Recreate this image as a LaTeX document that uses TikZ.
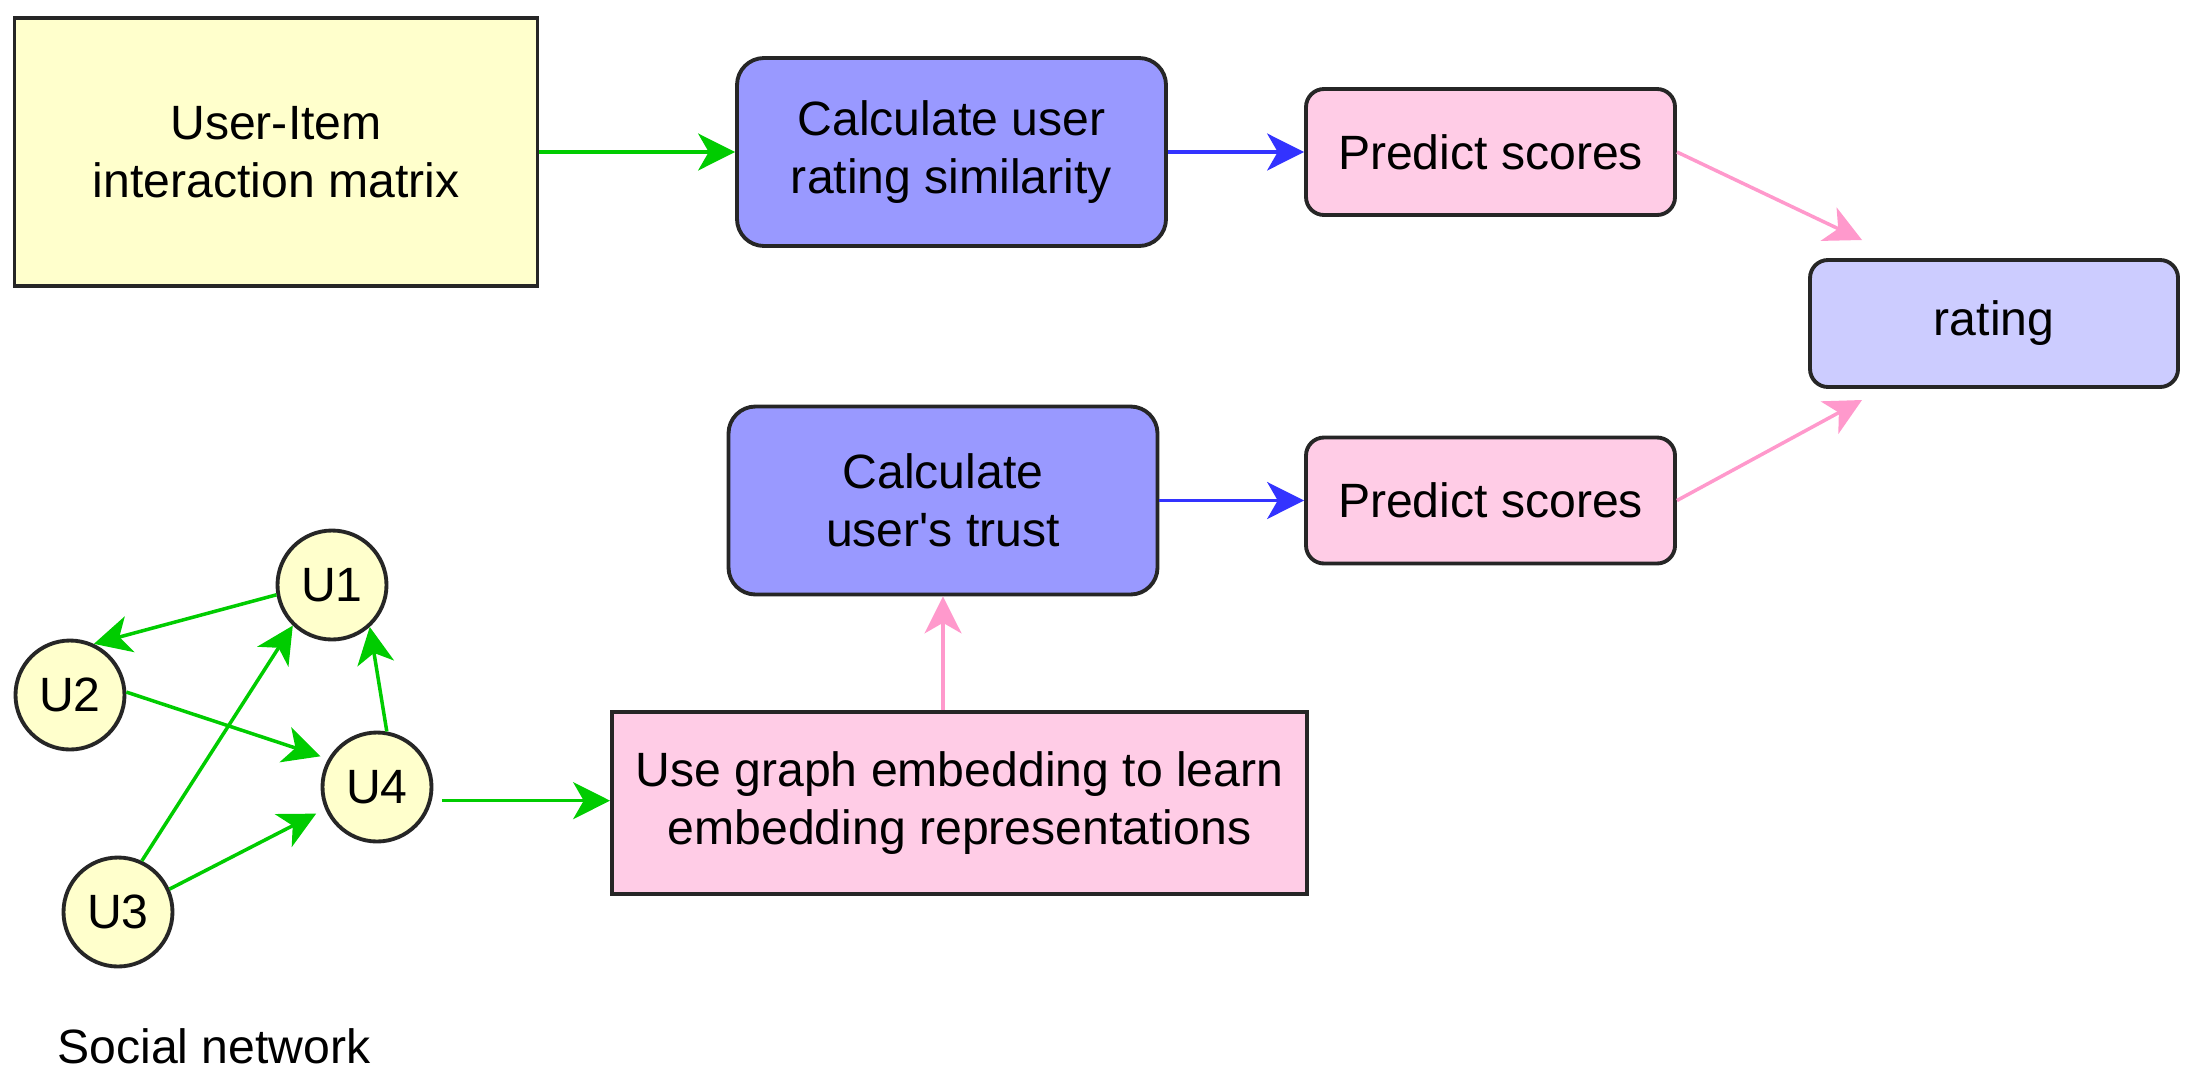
\documentclass[tikz,border=0pt]{standalone}
\usepackage{fontspec}
\setmainfont{Liberation Sans}
\usetikzlibrary{arrows.meta}

\definecolor{boxyellow}{HTML}{FFFFCC}
\definecolor{boxblue}{HTML}{9999FF}
\definecolor{boxpink}{HTML}{FFCCE6}
\definecolor{boxlav}{HTML}{CCCCFF}
\definecolor{arrgreen}{HTML}{00CC00}
\definecolor{arrblue}{HTML}{3333FF}
\definecolor{arrpink}{HTML}{FF99CC}

\tikzset{
  txt/.style={font=\fontsize{13.7pt}{16.5pt}\selectfont, align=center, inner sep=0pt},
  box/.style={txt, draw=black!85, line width=1.1pt},
  calcbox/.style={box, fill=boxblue, rounded corners=0.27cm, minimum width=4.29cm, minimum height=1.88cm},
  predbox/.style={box, fill=boxpink, rounded corners=0.18cm, minimum width=3.69cm, minimum height=1.26cm},
  user/.style={txt, circle, draw=black!85, line width=1.1pt, fill=boxyellow, minimum size=1.09cm},
  link/.style={line width=1pt, -{Stealth[length=10.5pt, width=10.5pt, inset=3pt]}},
}

\begin{document}
\begin{tikzpicture}
        \useasboundingbox (0,0) rectangle (21.92,-10.88);

        % rating branch
        \node[box, fill=boxyellow, minimum width=5.23cm, minimum height=2.68cm] (uim) at (2.76,-1.52) {User-Item\\interaction matrix};
        \node[calcbox] (sim) at (9.515,-1.52) {Calculate user\\rating similarity};
        \node[predbox] (ps1) at (14.905,-1.52) {Predict scores};
        \node[box, fill=boxlav, rounded corners=0.18cm, minimum width=3.68cm, minimum height=1.27cm] (rating) at (19.94,-3.235) {rating};

        % trust branch
        \node[calcbox] (trust) at (9.43,-5.005) {Calculate\\user\textquotesingle s trust};
        \node[predbox] (ps2) at (14.905,-5.005) {Predict scores};
        \node[box, fill=boxpink, minimum width=6.95cm, minimum height=1.82cm] (emb) at (9.595,-8.03) {Use graph embedding to learn\\embedding representations};

        % social network
        \node[user] (u1) at (3.32,-5.85) {U1};
        \node[user] (u2) at (0.70,-6.95) {U2};
        \node[user] (u4) at (3.77,-7.87) {U4};
        \node[user] (u3) at (1.18,-9.12) {U3};
        \node[txt, anchor=base] (social) at (2.14,-10.63) {Social network};

        \coordinate (rin1) at (18.62,-2.40);
        \coordinate (rin2) at (18.62,-4.00);

        \draw[link, arrgreen] (uim) -- (sim);
        \draw[link, arrblue] (sim) -- (ps1);
        \draw[link, arrpink] (ps1.east) -- (rin1);
        \draw[link, arrblue] (trust) -- (ps2);
        \draw[link, arrpink] (ps2.east) -- (rin2);
        \draw[link, arrpink] (emb.north -| trust.south) -- (trust.south);

        \draw[link, arrgreen] (u1.190) -- (u2.65);
        \draw[link, arrgreen, shorten >=0.08cm] (u2.3) -- (u4.150);
        \draw[link, arrgreen] (u4.80) -- (u1.312);
        \draw[link, arrgreen] (u3.65) -- (u1.226);
        \draw[link, arrgreen, shorten >=0.1cm] (u3.24) -- (u4.203);
        \draw[link, arrgreen, shorten <=0.1cm] (u4.-14) -- (u4.-14 -| emb.west);
    \end{tikzpicture}
\end{document}
